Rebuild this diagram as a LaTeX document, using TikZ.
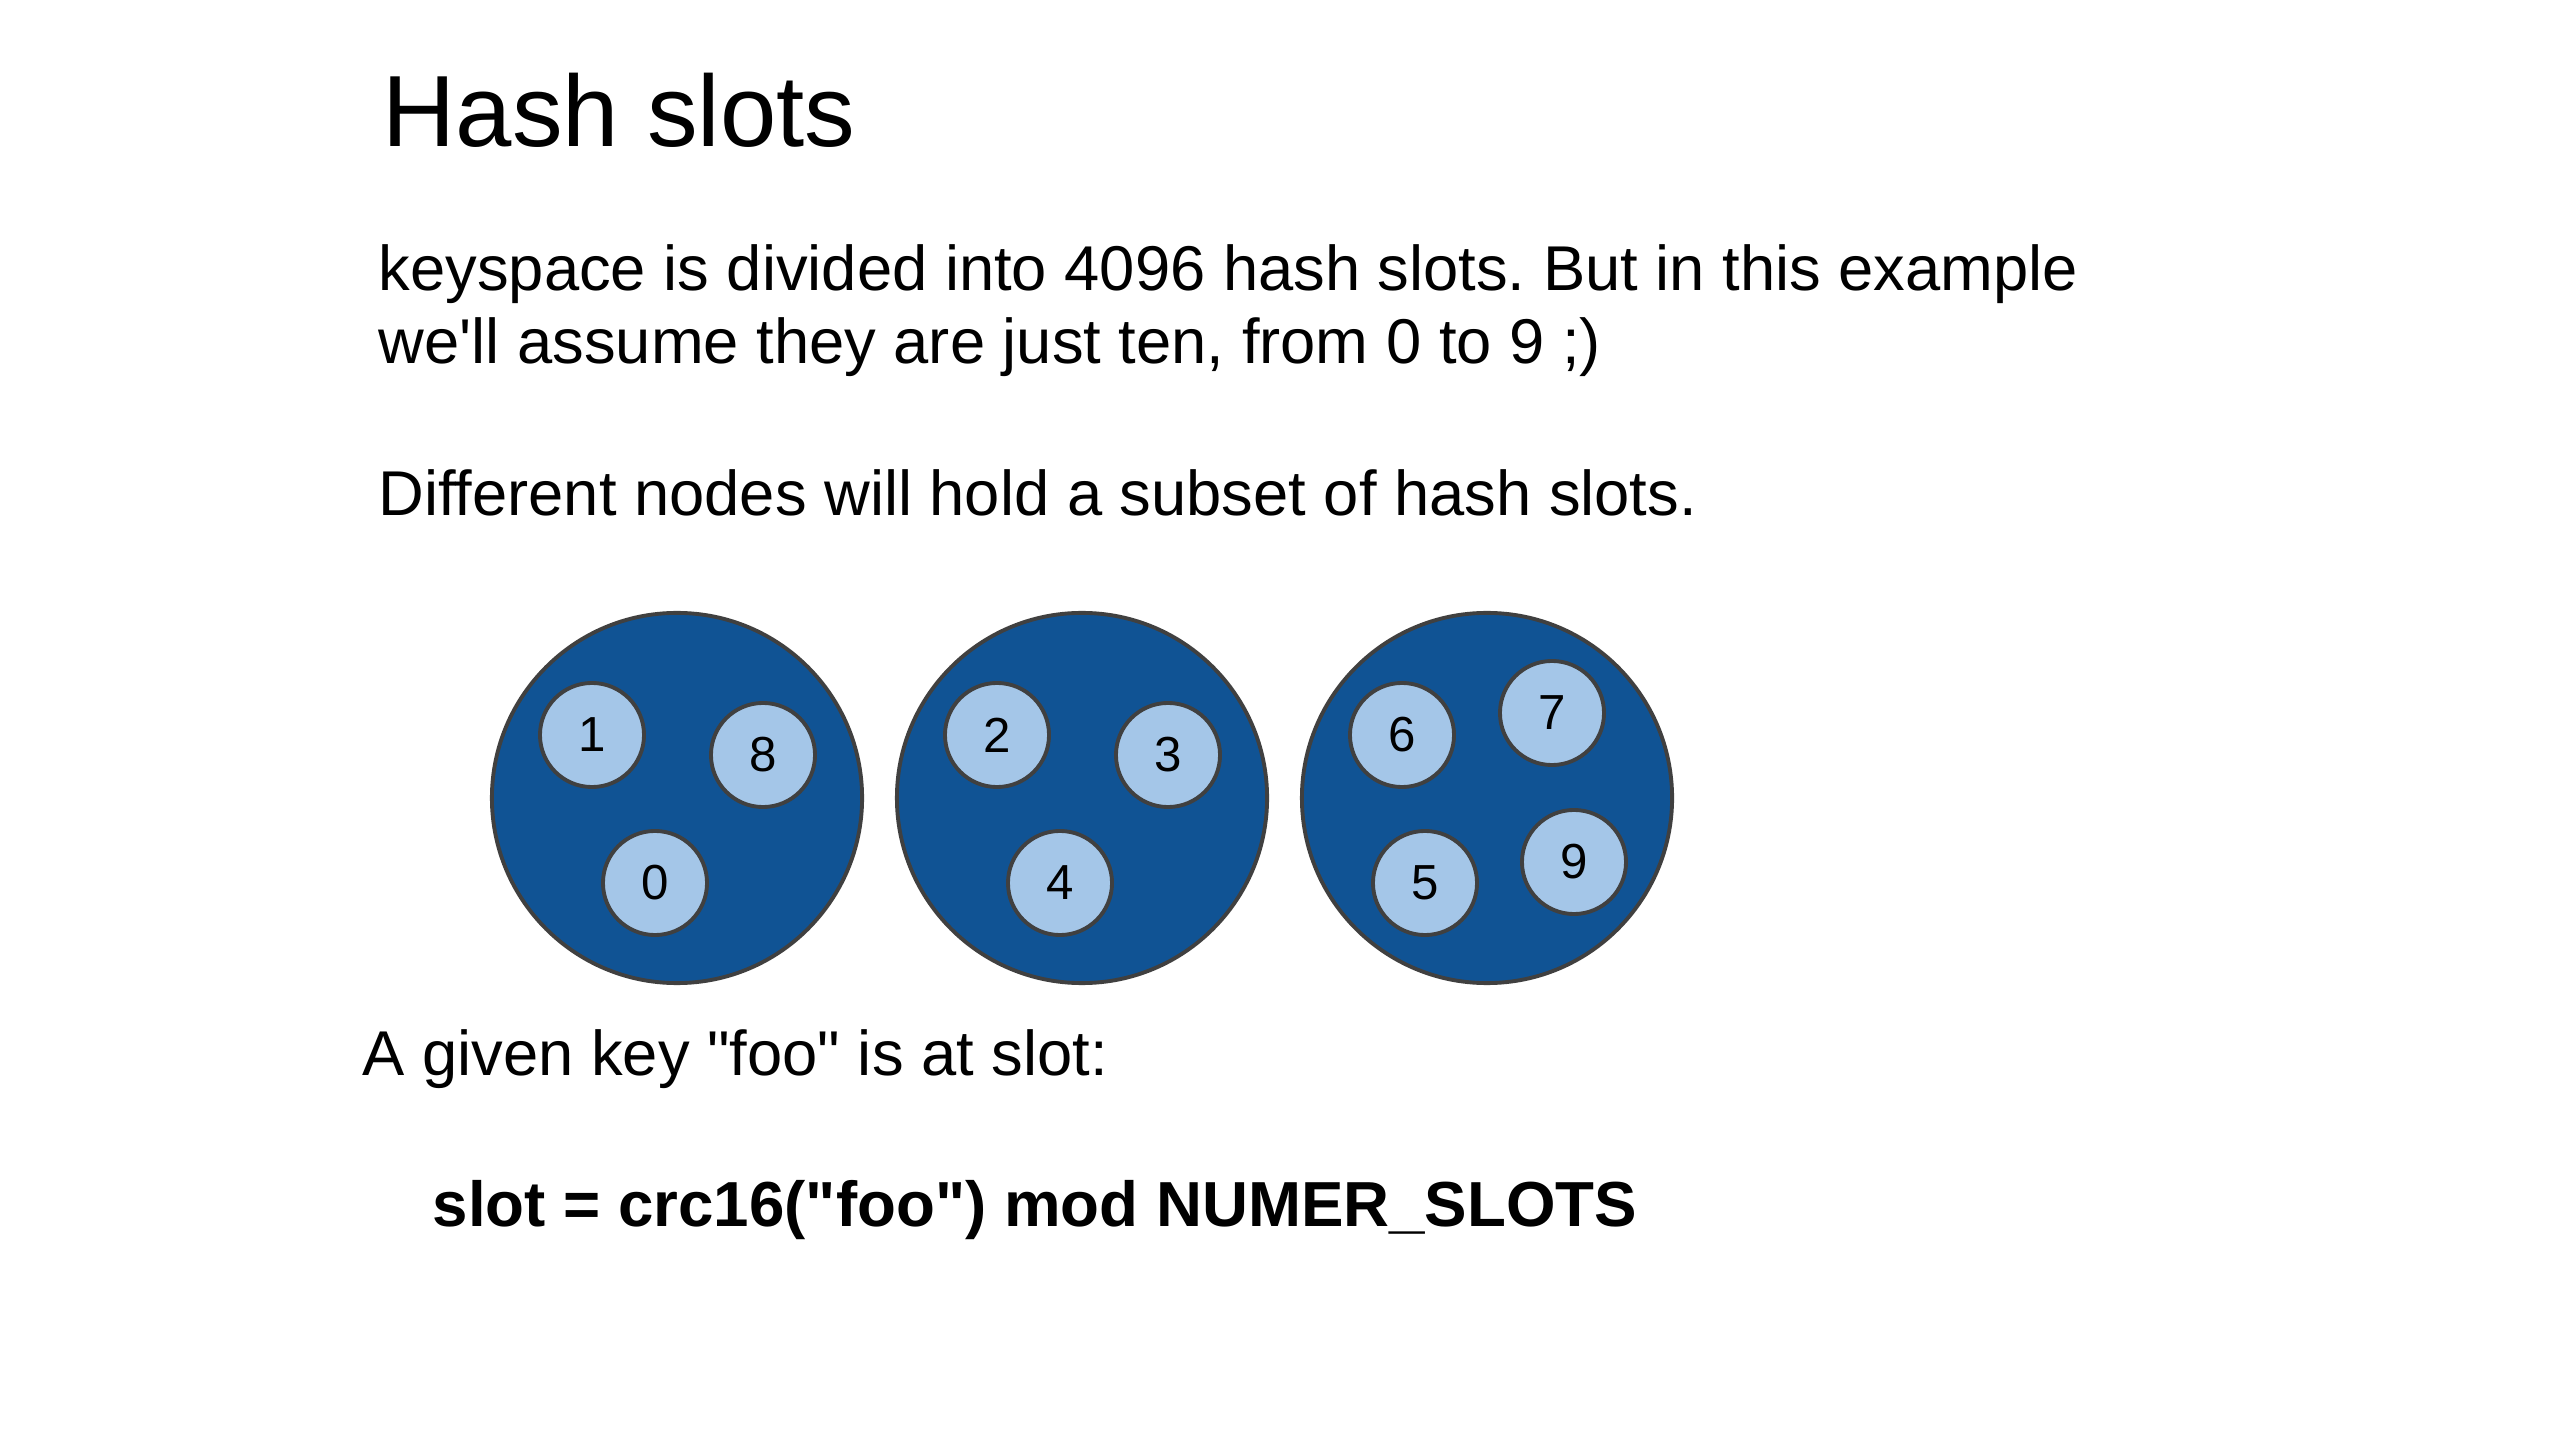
\documentclass[tikz,border=0pt]{standalone}
\usepackage{fontspec}
\setmainfont{Liberation Sans}[Ligatures=TeXOff]
\usetikzlibrary{positioning}
\definecolor{nodeblue}{RGB}{16,83,148}
\definecolor{slotblue}{RGB}{164,198,232}
\definecolor{rimgray}{RGB}{64,64,64}
\frenchspacing

\begin{document}
\begin{tikzpicture}[x=0.01cm, y=-0.01cm,
    txt/.style={anchor=base west, inner sep=0pt, font=\fontsize{18pt}{21pt}\selectfont},
    server/.style={circle, draw=rimgray, line width=1.1pt, fill=nodeblue, minimum size=3.7cm, inner sep=0pt},
    slot/.style={circle, draw=rimgray, line width=1.1pt, fill=slotblue, minimum size=1.04cm, inner sep=0pt, font=\fontsize{14pt}{14pt}\selectfont}]
    \useasboundingbox (0,0) rectangle (2560,1440);

    % Title and text
    \node[txt, font=\fontsize{28.8pt}{30pt}\selectfont] (title) at (382,147) {Hash slots};
    \node[txt] (line1) at (378,291) {keyspace is divided into 4096 hash slots. But in this example};
    \node[txt] (line2) at (378,364) {we'll assume they are just ten, from 0 to 9 ;)};
    \node[txt] (subset) at (378,516) {Different nodes will hold a subset of hash slots.};

    % Nodes
    \node[server] (nodeA) at (677,798) {};
    \node[server] (nodeB) at (1082,798) {};
    \node[server] (nodeC) at (1487,798) {};

    % Hash slots
    \node[slot] (s1) at (592,735) {1};
    \node[slot] (s8) at (763,755) {8};
    \node[slot] (s0) at (655,883) {0};
    \node[slot] (s2) at (997,735) {2};
    \node[slot] (s3) at (1168,755) {3};
    \node[slot] (s4) at (1060,883) {4};
    \node[slot] (s6) at (1402,735) {6};
    \node[slot] (s7) at (1552,713) {7};
    \node[slot] (s5) at (1425,883) {5};
    \node[slot] (s9) at (1574,862) {9};

    % Key lookup
    \node[txt] (given) at (362,1075) {A given key "foo" is at slot:};
    \node[txt, font=\bfseries\fontsize{18.1pt}{21pt}\selectfont] (formula) at (432,1226) {slot = crc16("foo") mod NUMER\_SLOTS};
\end{tikzpicture}
\end{document}
